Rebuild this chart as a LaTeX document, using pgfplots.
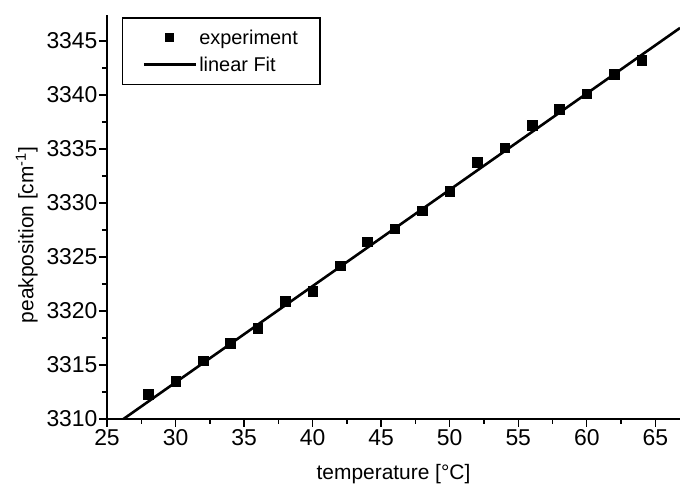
\documentclass[border=0pt]{standalone}
\usepackage{pgfplots}
\pgfplotsset{compat=1.18}
\usepackage{fontspec}
\setmainfont{Liberation Sans}

\begin{document}
\begin{tikzpicture}
\useasboundingbox (-107bp,-67bp) rectangle (573bp,419bp);
\begin{axis}[
    at={(0,0)}, anchor=south west,
    scale only axis, width=573bp, height=404bp,
    xmin=25, xmax=66.8,
    ymin=3310, ymax=3347.4,
    axis lines*=left,
    axis line style={line width=1.8bp},
    every tick/.style={black, line width=1.4bp},
    tick align=outside,
    major tick length=8bp, minor tick length=5bp,
    xtick={25,30,...,65},
    ytick={3310,3315,...,3345},
    minor tick num=1,
    /pgf/number format/assume math mode=true,
    /pgf/number format/set thousands separator={},
    tick label style={font=\fontsize{23}{25}\selectfont},
    xticklabel style={yshift=1bp},
    yticklabel style={xshift=2bp},
    xlabel={temperature [°C]},
    ylabel={peakposition [cm\textsuperscript{-1}]},
    label style={font=\fontsize{21}{23}\selectfont},
    xlabel style={yshift=-12bp},
    ylabel style={yshift=2bp, xshift=-18bp},
    legend cell align=left,
    legend style={at={(0.026,0.995)}, anchor=north west,
        draw=black, line width=1.6bp,
        font=\fontsize{20}{22}\selectfont,
        inner xsep=20bp, inner ysep=10bp,
        row sep=7bp},
]
\addplot[only marks, mark=square*, mark size=4.8bp, black,
    legend image code/.code={
        \path[draw=none] (0bp,0bp) -- (52bp,0bp);
        \fill[black] (22bp,-3.5bp) rectangle (29bp,3.5bp);
    }]
coordinates {
    (28,3312.3) (30,3313.5) (32,3315.4) (34,3317.0) (36,3318.4)
    (38,3320.9) (40,3321.85) (42,3324.2) (44,3326.4) (46,3327.6)
    (48,3329.3) (50,3331.1) (52,3333.8) (54,3335.1) (56,3337.2)
    (58,3338.7) (60,3340.1) (62,3341.9) (64,3343.2)};
\addlegendentry{experiment}
\addplot[black, line width=2.6bp, no marks,
    legend image code/.code={
        \draw[black, line width=2.6bp] (0bp,0bp) -- (52bp,0bp);
    }]
coordinates {(26.2,3310) (66.8,3346.2)};
\addlegendentry{linear Fit}
\end{axis}
\end{tikzpicture}
\end{document}
